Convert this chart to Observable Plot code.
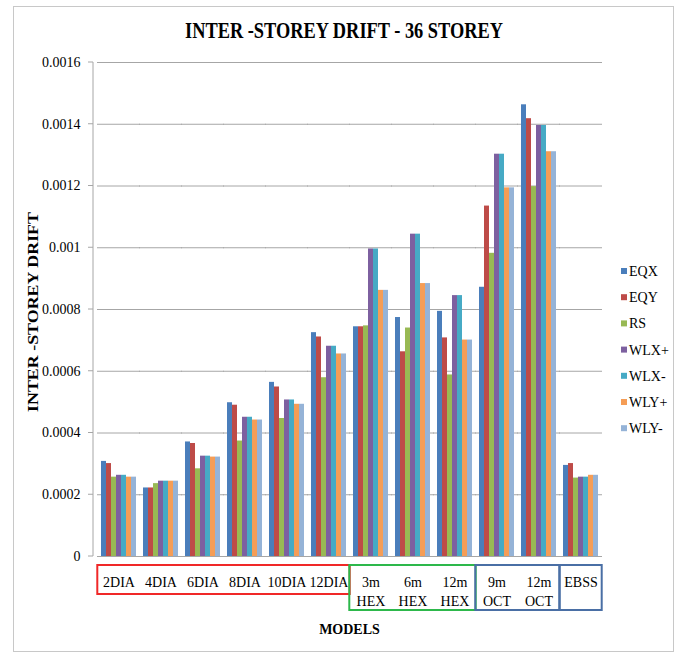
<!DOCTYPE html>
<html><head><meta charset="utf-8">
<script src="https://cdn.jsdelivr.net/npm/d3@7"></script>
<script src="https://cdn.jsdelivr.net/npm/@observablehq/plot@0.6"></script>
<style>
html,body{margin:0;padding:0;background:#fff;}
#chart{position:relative;width:678px;height:654px;}
#chart svg text{font-family:'Liberation Serif','Times New Roman',serif;}
</style></head><body><div id="chart"></div>
<script>
const models = ["2DIA","4DIA","6DIA","8DIA","10DIA","12DIA","3m HEX","6m HEX","12m HEX","9m OCT","12m OCT","EBSS"];
const modelLabels = ["2DIA","4DIA","6DIA","8DIA","10DIA","12DIA","3m\nHEX","6m\nHEX","12m\nHEX","9m\nOCT","12m\nOCT","EBSS"];
const seriesNames = ["EQX","EQY","RS","WLX+","WLX-","WLY+","WLY-"];
const seriesColors = ["#4A7EBB","#BE4B48","#98B954","#7D60A0","#46AAC5","#F59D56","#95B3D7"];

const EQX  = [0.000308,0.000222,0.000371,0.000498,0.000564,0.000725,0.000744,0.000774,0.000794,0.000872,0.001463,0.000295];
const EQY  = [0.000301,0.000222,0.000366,0.000490,0.000549,0.000711,0.000744,0.000663,0.000708,0.001135,0.001418,0.000301];
const RS   = [0.000257,0.000236,0.000284,0.000374,0.000447,0.000579,0.000747,0.000740,0.000588,0.000982,0.001198,0.000254];
const WLXp = [0.000263,0.000244,0.000325,0.000451,0.000507,0.000681,0.000996,0.001044,0.000845,0.001303,0.001396,0.000257];
const WLXm = [0.000263,0.000244,0.000325,0.000451,0.000507,0.000681,0.000996,0.001044,0.000845,0.001303,0.001396,0.000257];
const WLYp = [0.000257,0.000244,0.000322,0.000442,0.000493,0.000656,0.000862,0.000884,0.000701,0.001194,0.001311,0.000263];
const WLYm = [0.000257,0.000244,0.000322,0.000442,0.000493,0.000656,0.000862,0.000884,0.000701,0.001194,0.001311,0.000263];
const seriesValues = [EQX, EQY, RS, WLXp, WLXm, WLYp, WLYm];

const yTicks = [0,0.0002,0.0004,0.0006,0.0008,0.001,0.0012,0.0014,0.0016];

const groupFrom   = ["2DIA","3m HEX","9m OCT","EBSS"];
const groupTo     = ["12DIA","12m HEX","12m OCT","EBSS"];
const groupColors = ["#F02828","#2DB84B","#4A6FA5","#4A6FA5"];
const groupTall   = [false,true,true,true];

const titleText = "INTER -STOREY DRIFT - 36 STOREY";
const yTitle = "INTER -STOREY DRIFT";
const xTitle = "MODELS";

const data = [];
seriesNames.forEach((s, si) => models.forEach((m, mi) => data.push({model: m, series: s, value: seriesValues[si][mi]})));

const serif = "'Liberation Serif','Times New Roman',serif";
const padIn = 1.5/8.5, padOut = 0.75/8.5;

const plot = Plot.plot({
  width: 678, height: 654,
  marginLeft: 93, marginRight: 72, marginTop: 62, marginBottom: 98,
  style: {fontFamily: serif, fontSize: "14px", background: "transparent", color: "#000"},
  fx: {domain: models, paddingInner: padIn, paddingOuter: padOut, axis: null, label: null},
  x: {domain: seriesNames, padding: 0, axis: null},
  y: {domain: [0, 0.0016]},
  color: {domain: seriesNames, range: seriesColors},
  marks: [
    Plot.ruleY(yTicks, {stroke: "#a6a6a6", strokeWidth: 1, insetLeft: -4, insetRight: -4}),
    Plot.barY(data, {fx: "model", x: "series", y: "value", fill: "series"}),
    Plot.axisY({ticks: yTicks, tickFormat: d3.format(".4~f"), tickSize: 0, tickPadding: 21, fontSize: 14, fontFamily: serif, label: null}),
    Plot.text(models, {fx: d => d, text: (d, i) => modelLabels[i], frameAnchor: "bottom", lineAnchor: "top", dy: 16, fontSize: 14, fontFamily: serif, lineHeight: 1.41})
  ]
});
document.getElementById("chart").appendChild(plot);

const svg = d3.select(plot);
const fx = plot.scale("fx");
const y = plot.scale("y");
const y0 = y.apply(0);
const x0 = fx.range[0];
const half = fx.step * padIn / 2;

// outer border
svg.insert("rect", ":first-child").attr("x", 13.5).attr("y", 6.5).attr("width", 660).attr("height", 645)
  .attr("fill", "none").attr("stroke", "#c8c8c8");

// axis line and ticks
svg.append("line").attr("x1", x0).attr("x2", x0).attr("y1", y.apply(0.0016)).attr("y2", y0).attr("stroke", "#a6a6a6");
yTicks.forEach(t => svg.append("line").attr("x1", x0 - 5).attr("x2", x0).attr("y1", y.apply(t)).attr("y2", y.apply(t)).attr("stroke", "#a6a6a6"));

// group boxes
groupFrom.forEach((g, i) => {
  const left = fx.apply(g) - half;
  const right = fx.apply(groupTo[i]) + fx.bandwidth + half;
  svg.append("rect").attr("x", left).attr("y", y0 + 9).attr("width", right - left)
    .attr("height", groupTall[i] ? 45 : 29).attr("fill", "none")
    .attr("stroke", groupColors[i]).attr("stroke-width", 2);
});

// titles
svg.append("text").attr("x", 344).attr("y", 38).attr("text-anchor", "middle")
  .attr("font-weight", "bold").attr("font-size", 23)
  .attr("textLength", 318).attr("lengthAdjust", "spacingAndGlyphs").text(titleText);
svg.append("text").attr("transform", "translate(38,312) rotate(-90)").attr("text-anchor", "middle")
  .attr("font-weight", "bold").attr("font-size", 15)
  .attr("textLength", 200).attr("lengthAdjust", "spacingAndGlyphs").text(yTitle);
svg.append("text").attr("x", 349.5).attr("y", 634).attr("text-anchor", "middle")
  .attr("font-weight", "bold").attr("font-size", 14).text(xTitle);

// legend
const color = plot.scale("color");
seriesNames.forEach((s, i) => {
  const cy = 271 + i * 26.2;
  svg.append("rect").attr("x", 621).attr("y", cy - 3).attr("width", 6).attr("height", 6).attr("fill", color.apply(s));
  svg.append("text").attr("x", 629).attr("y", cy + 5).attr("text-anchor", "start").attr("font-size", 14).text(s);
});
</script></body></html>
